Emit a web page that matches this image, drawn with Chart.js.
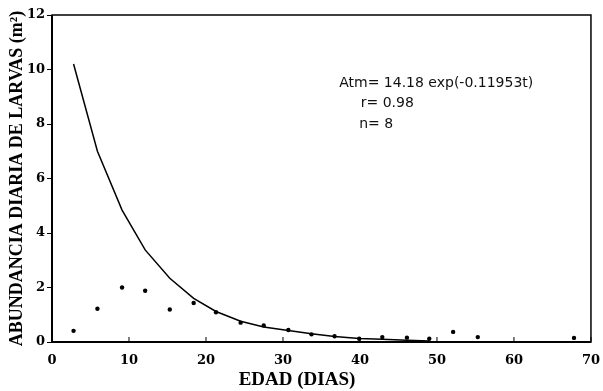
<!DOCTYPE html>
<html>
<head>
<meta charset="utf-8">
<script src="https://cdn.jsdelivr.net/npm/chart.js@4"></script>
<style>
  html, body { margin: 0; padding: 0; background: #fff; }
  #wrap { width: 603px; height: 391px; }
</style>
</head>
<body>
<div id="wrap"><canvas id="myChart" width="603" height="391"></canvas></div>
<script>
// observed daily larval abundance
const edad = [2.8, 5.9, 9.1, 12.1, 15.3, 18.4, 21.3, 24.5, 27.5, 30.7, 33.7, 36.7, 39.9, 42.9, 46.1, 49.0, 52.1, 55.3, 67.8];
const abundancia = [0.41, 1.22, 2.0, 1.88, 1.19, 1.43, 1.09, 0.71, 0.61, 0.44, 0.28, 0.21, 0.12, 0.18, 0.16, 0.12, 0.37, 0.18, 0.15];

// fitted curve
const edadAjuste = [2.8, 5.9, 9.1, 12.1, 15.3, 18.4, 21.3, 24.5, 27.5, 30.7, 33.7, 36.7, 39.9, 42.9, 46.1, 49.0];
const ajuste = [10.2, 7.0, 4.84, 3.38, 2.34, 1.6, 1.12, 0.76, 0.55, 0.42, 0.3, 0.2, 0.13, 0.1, 0.06, 0.04];

const xTicks = [0, 10, 20, 30, 40, 50, 60, 70];
const yTicks = [0, 2, 4, 6, 8, 10, 12];

const textoModelo = ["Atm= 14.18 exp(-0.11953t)", "r= 0.98", "n= 8"];
const tituloX = "EDAD (DIAS)";

const serif = "'Liberation Serif', 'DejaVu Serif', serif";
const serifTicks = "'DejaVu Serif', 'Liberation Serif', serif";

// box, inward x ticks, x title and the model text
const extras = {
	id: "extras",
	afterDraw(chart) {
		const c = chart.ctx;
		const a = chart.chartArea;
		const xs = chart.scales.x;
		const ys = chart.scales.y;
		c.save();
		c.strokeStyle = "#000";
		c.lineWidth = 1.5;
		c.strokeRect(a.left, a.top, a.right - a.left, a.bottom - a.top);
		c.lineWidth = 2;
		c.beginPath();
		c.moveTo(a.left, a.top);
		c.lineTo(a.left, a.bottom);
		c.lineTo(a.right, a.bottom);
		c.stroke();
		c.lineWidth = 1;
		c.beginPath();
		xTicks.forEach((v) => {
			const px = xs.getPixelForValue(v);
			c.moveTo(px, a.bottom);
			c.lineTo(px, a.bottom - 5);
		});
		c.stroke();

		c.fillStyle = "#000";
		c.font = "bold 19px " + serif;
		c.textAlign = "center";
		c.textBaseline = "middle";
		c.fillText(tituloX, 297, 380);

		c.fillStyle = "#111";
		c.font = "14px 'DejaVu Sans', sans-serif";
		c.textAlign = "left";
		c.fillText(textoModelo[0], xs.getPixelForValue(37.3), ys.getPixelForValue(9.5));
		c.fillText(textoModelo[1], xs.getPixelForValue(40.1), ys.getPixelForValue(8.75));
		c.fillText(textoModelo[2], xs.getPixelForValue(39.9), ys.getPixelForValue(8.0));
		c.restore();
	},
};

const ctx = document.getElementById("myChart");

new Chart(ctx, {
	type: "scatter",
	data: {
		datasets: [
			{
				label: "ajuste",
				data: edadAjuste.map((x, i) => ({ x: x, y: ajuste[i] })),
				showLine: true,
				borderColor: "#000",
				borderWidth: 1.5,
				pointRadius: 0,
				tension: 0,
			},
			{
				label: "observado",
				data: edad.map((x, i) => ({ x: x, y: abundancia[i] })),
				pointStyle: "circle",
				pointRadius: 2.2,
				backgroundColor: "#000",
				borderColor: "#000",
				borderWidth: 0,
			},
		],
	},
	plugins: [extras],
	options: {
		responsive: false,
		animation: false,
		layout: { padding: { top: 15, right: 10, left: 7, bottom: 0 } },
		plugins: {
			legend: { display: false },
			tooltip: { enabled: false },
		},
		scales: {
			x: {
				type: "linear",
				min: 0,
				max: 70,
				afterBuildTicks: (s) => { s.ticks = xTicks.map((v) => ({ value: v })); },
				afterFit: (s) => { s.height = 49; },
				border: { display: false },
				grid: { display: false },
				ticks: {
					color: "#000",
					padding: 3,
					font: { family: serifTicks, size: 13, weight: "bold" },
				},
				title: { display: false },
			},
			y: {
				type: "linear",
				min: 0,
				max: 12,
				afterBuildTicks: (s) => { s.ticks = yTicks.map((v) => ({ value: v })); },
				afterFit: (s) => { s.width = 45; },
				border: { display: false },
				grid: { drawOnChartArea: false, tickLength: 5, color: "#000" },
				ticks: {
					color: "#000",
					padding: 2,
					font: { family: serifTicks, size: 13, weight: "bold" },
				},
				title: {
					display: true,
					text: "ABUNDANCIA DIARIA DE LARVAS (m²)",
					color: "#000",
					padding: { top: 0, bottom: 0 },
					font: { family: serif, size: 18, weight: "bold" },
				},
			},
		},
	},
});
</script>
</body>
</html>
